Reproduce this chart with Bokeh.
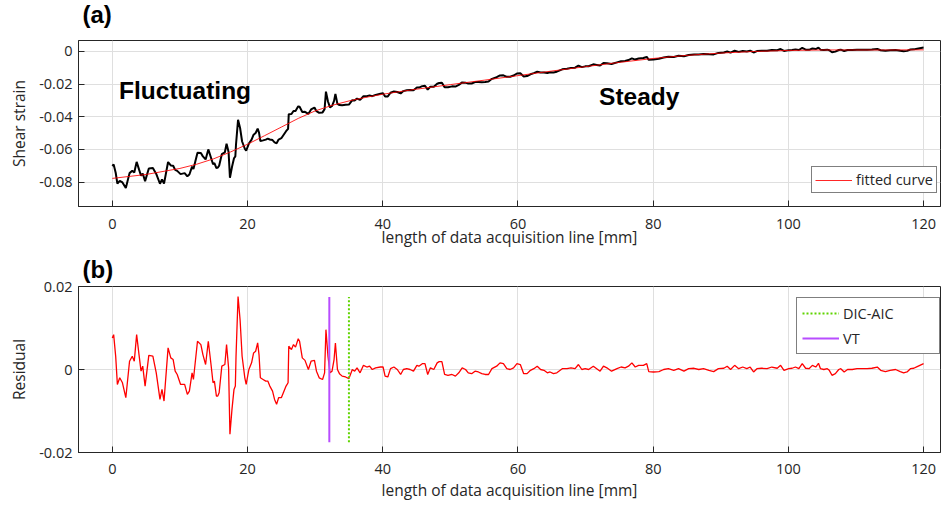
import numpy as np
from bokeh.plotting import figure
from bokeh.layouts import column
from bokeh.models import FixedTicker, Label, Range1d, Legend, LegendItem
from bokeh.embed import file_html
from bokeh.resources import INLINE

# ---------------- data ----------------
x_ticks = [0, 20, 40, 60, 80, 100, 120]
strain_ticks = [-0.08, -0.06, -0.04, -0.02, 0.0]
strain_tick_labels = ["-0.08", "-0.06", "-0.04", "-0.02", "0"]
res_ticks = [-0.02, 0.0, 0.02]
res_tick_labels = ["-0.02", "0", "0.02"]

# fitted curve
fit_x = [0, 5, 10, 12.5, 15, 17.5, 20, 22.5, 25, 27.5, 30, 32.5, 35, 37.5, 40, 42.5,
         45, 50, 55, 60, 65, 70, 75, 80, 85, 90, 95, 100, 105, 110, 115, 120]
fit_y = [-0.0777, -0.0753, -0.0716, -0.0690, -0.0657, -0.0615, -0.0568, -0.0516,
         -0.0463, -0.0410, -0.0364, -0.0330, -0.0303, -0.0281, -0.0262, -0.0246,
         -0.0231, -0.0203, -0.0176, -0.0148, -0.0120, -0.0093, -0.0067, -0.0043,
         -0.0024, -0.0010, 0.0000, 0.0006, 0.0009, 0.0009, 0.0009, 0.0010]

# residual (strain - fitted curve)
res_x = [0.0, 0.2, 0.5, 0.75, 1.1, 1.5, 2.0, 2.55, 2.95, 3.25, 3.6, 3.95, 4.25, 4.5, 4.85,
         5.4, 6.0, 6.5, 7.05, 7.35, 7.65, 8.25, 8.65, 9.0, 9.3, 9.6, 10.1, 10.7, 11.1, 11.4,
         11.8, 12.0, 12.6, 13.1, 13.4, 13.8, 14.2, 14.6, 14.9, 15.1, 15.4, 15.6, 15.8, 16.2,
         16.65, 16.9, 17.2, 17.4, 17.7, 18.0, 18.2, 18.3, 18.6, 18.9, 19.2, 19.6, 19.8, 20.2,
         20.6, 20.9, 21.2, 21.5, 21.7, 21.9, 22.3, 22.7, 23.0, 23.3, 23.7, 24.0, 24.3, 24.6,
         25.0, 25.3, 25.7, 26.0, 26.1, 26.5, 26.8, 27.1, 27.5, 27.7, 28.1, 28.5, 29.0, 29.4,
         29.9, 30.2, 30.6, 31.1, 31.4, 31.6, 31.9, 32.2, 32.5, 32.8, 33.0, 33.3, 33.6, 34.0,
         34.5, 35.0, 35.5, 35.85, 36.2, 36.65, 37.15, 37.65, 38.05, 38.45, 38.95, 39.65,
         40.05, 40.35, 40.75, 41.15, 41.65, 42.15, 42.65, 43.05, 43.55, 44.05, 44.55, 45.05,
         45.35, 45.85, 46.25, 46.65, 47.05, 47.55, 48.05, 48.35, 48.75, 49.15, 49.65, 50.25,
         50.75, 51.25, 51.75, 52.25, 52.65, 53.15, 53.65, 54.15, 54.65, 55.15, 55.65, 56.15,
         56.85, 57.35, 57.85, 58.35, 58.85, 59.35, 59.85, 60.35, 60.85, 61.35, 61.85, 62.35,
         62.85, 63.35, 63.85, 64.35, 64.75, 65.25, 65.75, 66.55, 67.25, 67.85, 68.45, 68.95,
         69.45, 69.95, 70.45, 71.15, 71.65, 72.15, 72.65, 73.15, 73.85, 74.65, 75.25, 75.85,
         76.35, 76.85, 77.35, 77.85, 78.55, 79.05, 79.35, 80.05, 80.85, 81.55, 82.25, 83.05,
         83.75, 84.55, 85.25, 86.05, 86.75, 87.45, 88.25, 88.95, 89.65, 90.45, 90.95, 91.45,
         92.05, 92.65, 93.25, 93.85, 94.35, 94.85, 95.35, 96.05, 96.85, 97.55, 98.35, 98.85,
         99.35, 100.05, 100.55, 101.05, 101.55, 102.05, 102.55, 103.05, 103.55, 104.05,
         104.45, 104.75, 105.25, 105.75, 106.05, 106.45, 106.95, 107.45, 107.75, 108.25,
         108.75, 109.45, 110.15, 110.95, 111.65, 112.35, 113.15, 113.65, 114.35, 115.05,
         115.85, 116.55, 117.05, 117.55, 118.05, 118.55, 119.05, 120.0]
res_y = [0.0076, 0.0084, 0.0032, -0.0036, -0.0020, -0.0032, -0.0068, 0.0020, 0.0032, 0.0020,
         0.0084, 0.0036, -0.0004, 0.0008, -0.0040, 0.0034, 0.0032, -0.0008, -0.0072, -0.0048,
         -0.0076, 0.0052, 0.0028, 0.0024, -0.0004, -0.0012, -0.0036, -0.0036, -0.0060, -0.0052,
         -0.0008, -0.0024, 0.0068, 0.0060, 0.0036, 0.0012, 0.0068, 0.0012, -0.0032, -0.0028,
         -0.0064, -0.0064, -0.0056, 0.0008, 0.0012, 0.0060, 0.0004, -0.0156, -0.0096, -0.0048,
         -0.0040, 0.0032, 0.0176, 0.0120, 0.0032, -0.0020, -0.0036, 0.0000, 0.0016, 0.0040,
         0.0044, 0.0064, 0.0036, -0.0020, -0.0024, -0.0028, -0.0028, -0.0040, -0.0052, -0.0072,
         -0.0084, -0.0068, -0.0068, -0.0056, -0.0040, -0.0032, 0.0056, 0.0048, 0.0060, 0.0054,
         0.0074, 0.0068, 0.0028, 0.0022, 0.0000, 0.0020, 0.0022, -0.0004, -0.0020, -0.0024,
         -0.0008, 0.0096, 0.0032, -0.0008, -0.0004, 0.0024, 0.0064, 0.0000, -0.0010, -0.0016,
         -0.0018, -0.0022, 0.0000, -0.0004, 0.0004, -0.0008, 0.0010, 0.0006, 0.0008, 0.0000,
         0.0004, 0.0006, 0.0006, -0.0016, -0.0018, 0.0002, 0.0006, 0.0000, -0.0012, 0.0000,
         0.0002, 0.0000, -0.0004, 0.0010, 0.0008, 0.0014, 0.0014, -0.0012, 0.0004, 0.0000,
         0.0016, 0.0019, 0.0019, -0.0012, -0.0014, -0.0012, -0.0016, -0.0008, 0.0004, 0.0000,
         -0.0008, -0.0010, -0.0004, -0.0006, -0.0010, -0.0012, -0.0012, 0.0002, 0.0008, 0.0016,
         0.0014, 0.0002, 0.0000, 0.0004, 0.0014, 0.0012, -0.0010, -0.0010, -0.0002, 0.0002,
         0.0008, 0.0000, -0.0002, -0.0008, -0.0006, -0.0010, -0.0008, 0.0002, 0.0002, 0.0004,
         0.0002, 0.0012, 0.0000, 0.0002, 0.0000, 0.0008, 0.0002, -0.0004, 0.0008, 0.0004,
         -0.0004, 0.0002, 0.0006, 0.0004, 0.0008, 0.0016, 0.0006, 0.0010, 0.0010, 0.0014,
         -0.0005, -0.0006, -0.0005, 0.0000, 0.0002, -0.0002, 0.0002, -0.0004, 0.0002, 0.0003,
         0.0000, 0.0002, -0.0002, -0.0005, 0.0002, 0.0003, 0.0008, 0.0000, 0.0010, 0.0002,
         0.0006, 0.0002, 0.0006, -0.0006, 0.0002, 0.0003, 0.0002, 0.0006, 0.0003, 0.0010,
         -0.0002, 0.0002, 0.0003, 0.0006, 0.0002, 0.0014, 0.0003, 0.0002, 0.0010, 0.0006,
         0.0015, 0.0002, 0.0000, 0.0002, -0.0002, -0.0014, -0.0010, 0.0000, 0.0002, -0.0006,
         0.0000, 0.0000, 0.0002, 0.0002, 0.0002, 0.0003, 0.0006, -0.0002, -0.0005, -0.0002,
         0.0000, -0.0005, -0.0008, -0.0006, 0.0002, 0.0003, 0.0007, 0.0014]

# measured strain = fitted curve + residual
strain_y = np.interp(res_x, fit_x, fit_y) + np.array(res_y)

# transition markers
vt_x = [32.1]
dic_x = [35.0]
marker_lo = [-0.0175]
marker_hi = [0.0175]

# ---------------- styling helpers ----------------
TXT = "#262626"
GRID = "#dfdfdf"
FONT = "Open Sans"
FRAME_H = 166


def style(p, yticks, ylabels, ylabel, tick_standoff, label_standoff):
    p.xaxis.ticker = FixedTicker(ticks=x_ticks)
    p.yaxis.ticker = FixedTicker(ticks=yticks)
    p.yaxis.major_label_overrides = {t: l for t, l in zip(yticks, ylabels)}
    p.xaxis.axis_label = "length of data acquisition line [mm]"
    p.yaxis.axis_label = ylabel
    for ax in (p.xaxis[0], p.yaxis[0]):
        ax.major_tick_in = 6
        ax.major_tick_out = 0
        ax.minor_tick_line_color = None
        ax.major_tick_line_color = TXT
        ax.axis_line_color = TXT
        ax.major_label_text_font = FONT
        ax.major_label_text_font_size = "14.5px"
        ax.major_label_text_color = TXT
        ax.axis_label_text_font = FONT
        ax.axis_label_text_font_size = "15.5px"
        ax.axis_label_text_font_style = "normal"
        ax.axis_label_text_color = TXT
    p.xaxis.major_label_standoff = tick_standoff
    p.xaxis.axis_label_standoff = label_standoff
    p.yaxis.major_label_standoff = 6
    p.yaxis.axis_label_standoff = 6
    p.xgrid.ticker = FixedTicker(ticks=x_ticks)
    p.ygrid.ticker = FixedTicker(ticks=yticks)
    p.grid.grid_line_color = GRID
    p.grid.grid_line_width = 1
    p.outline_line_color = TXT
    p.outline_line_width = 1
    p.background_fill_color = "white"
    p.border_fill_color = "white"


def panel_tag(p, text, above):
    p.add_layout(Label(x=4, y=above, x_units="screen", y_units="screen",
                       text=text, text_font="Liberation Sans", text_font_style="bold",
                       text_font_size="24px", text_color="black",
                       text_baseline="alphabetic"), "above")


W = 948

# ---------------- panel (a) ----------------
p1 = figure(width=W, height=40 + FRAME_H + 47, output_backend="svg", toolbar_location=None,
            x_range=Range1d(-5, 122.5), y_range=Range1d(-0.0949, 0.0067),
            min_border_left=78, min_border_right=8, min_border_top=40,
            min_border_bottom=47)
style(p1, strain_ticks, strain_tick_labels, "Shear strain", 12, -6)
panel_tag(p1, "(a)", 26)

p1.line(list(res_x), list(strain_y), line_color="black", line_width=2)
fit_r = p1.line(fit_x, fit_y, line_color="#ff0000", line_width=1, line_alpha=0.85)

leg1 = Legend(items=[LegendItem(label="fitted curve", renderers=[fit_r])],
              location=(733, 13), border_line_color="black", border_line_width=1,
              label_text_font=FONT, label_text_font_size="14.5px", label_text_color=TXT,
              glyph_width=37, glyph_height=16, padding=3, spacing=2, margin=0,
              label_standoff=4, background_fill_alpha=1)
p1.add_layout(leg1, "center")

p1.add_layout(Label(x=1.0, y=-0.0238, text="Fluctuating", text_font="Liberation Sans",
                    text_font_style="bold", text_font_size="24.5px", text_color="black",
                    text_baseline="alphabetic"))
p1.add_layout(Label(x=72.0, y=-0.0275, text="Steady", text_font="Liberation Sans",
                    text_font_style="bold", text_font_size="24.5px", text_color="black",
                    text_baseline="alphabetic"))

# ---------------- panel (b) ----------------
p2 = figure(width=W, height=33 + FRAME_H + 54, output_backend="svg", toolbar_location=None,
            x_range=Range1d(-5, 122.5), y_range=Range1d(-0.02, 0.02),
            min_border_left=78, min_border_right=8, min_border_top=33,
            min_border_bottom=54)
style(p2, res_ticks, res_tick_labels, "Residual", 11, 2)
panel_tag(p2, "(b)", 17)

p2.line(res_x, res_y, line_color="#ff0000", line_width=1.3)
dic_r = p2.segment(x0=dic_x, y0=marker_lo, x1=dic_x, y1=marker_hi,
                   line_color="#5fd400", line_width=2, line_dash="2 2")
vt_r = p2.segment(x0=vt_x, y0=marker_lo, x1=vt_x, y1=marker_hi,
                  line_color="#b84dff", line_width=2)

leg2 = Legend(items=[LegendItem(label="DIC-AIC", renderers=[dic_r]),
                     LegendItem(label="VT", renderers=[vt_r])],
              location=(718, 98), border_line_color="black", border_line_width=1,
              label_text_font=FONT, label_text_font_size="14.5px", label_text_color=TXT,
              glyph_width=37, glyph_height=20, padding=5, spacing=5, margin=0,
              label_standoff=4, label_width=91, background_fill_alpha=1)
p2.add_layout(leg2, "center")

layout = column(p1, p2)
open("out.html", "w").write(file_html(layout, INLINE))
